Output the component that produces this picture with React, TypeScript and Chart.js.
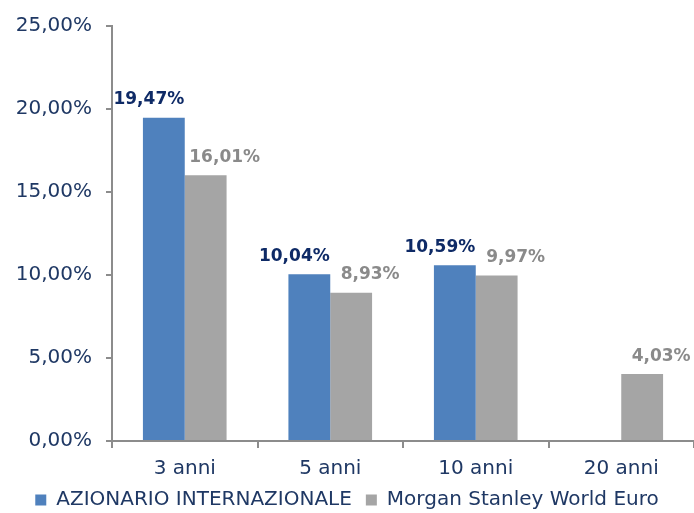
import React, { useEffect, useRef } from "react";
import { Chart, registerables } from "chart.js";

Chart.register(...registerables);

const categories = ["3 anni", "5 anni", "10 anni", "20 anni"];
const fundValues: (number | null)[] = [19.47, 10.04, 10.59, null];
const indexValues: (number | null)[] = [16.01, 8.93, 9.97, 4.03];
const seriesNames = ["AZIONARIO INTERNAZIONALE", "Morgan Stanley World Euro"];

const FONT = "'DejaVu Sans', Verdana, sans-serif";
const NAVY = "#1F3864";

const fmt = (v: number) => v.toFixed(2).replace(".", ",") + "%";

const labelPlugin = {
  id: "barLabels",
  afterDatasetsDraw(chart: any) {
    const ctx = chart.ctx;
    ctx.save();
    ctx.font = `bold 17px ${FONT}`;
    ctx.textAlign = "center";
    ctx.textBaseline = "middle";
    chart.data.datasets.forEach((ds: any, di: number) => {
      const meta = chart.getDatasetMeta(di);
      ctx.fillStyle = ds.labelColor;
      meta.data.forEach((el: any, i: number) => {
        const v = ds.data[i];
        if (v === null || v === undefined) return;
        ctx.fillText(fmt(v), el.x + ds.labelShift, el.y - 18);
      });
    });
    ctx.restore();
  },
};

export default function App() {
  const ref = useRef<HTMLCanvasElement>(null);
  useEffect(() => {
    if (!ref.current) return;
    const chart = new Chart(ref.current, {
      type: "bar",
      data: {
        labels: categories,
        datasets: [
          {
            label: seriesNames[0],
            data: fundValues,
            backgroundColor: "#4F81BD",
            categoryPercentage: 0.575,
            barPercentage: 1,
            labelColor: "#0E2A66",
            labelShift: -15,
          } as any,
          {
            label: seriesNames[1],
            data: indexValues,
            backgroundColor: "#A5A5A5",
            categoryPercentage: 0.575,
            barPercentage: 1,
            labelColor: "#8A8A8A",
            labelShift: 19,
          } as any,
        ],
      },
      options: {
        animation: false,
        responsive: false,
        maintainAspectRatio: false,
        layout: { padding: { top: 24, right: 0, left: 0, bottom: 0 } },
        plugins: {
          legend: {
            position: "bottom",
            maxHeight: 37,
            labels: {
              font: { family: FONT, size: 20 },
              color: NAVY,
              boxWidth: 11,
              boxHeight: 11,
              padding: 14,
            },
          },
          tooltip: { enabled: false },
        },
        scales: {
          x: {
            grid: { offset: true, drawOnChartArea: false, tickLength: 7, color: "#8C8C8C", lineWidth: 2 },
            border: { color: "#8C8C8C", width: 2 },
            ticks: { font: { family: FONT, size: 20 }, color: NAVY, padding: 9 },
            afterFit: (s: any) => {
              s.height = 35;
            },
          },
          y: {
            min: 0,
            max: 25,
            grid: { drawOnChartArea: false, tickLength: 6, color: "#8C8C8C", lineWidth: 2 },
            border: { color: "#8C8C8C", width: 2 },
            ticks: {
              stepSize: 5,
              font: { family: FONT, size: 20 },
              color: NAVY,
              padding: 14,
              callback: (v: any) => fmt(Number(v)),
            },
            afterFit: (s: any) => {
              s.width = 112;
            },
          },
        },
      },
      plugins: [labelPlugin],
    });
    return () => chart.destroy();
  }, []);
  return (
    <div style={{ position: "absolute", left: 0, top: 0, width: 694, height: 513, background: "#fff" }}>
      <canvas ref={ref} width={694} height={513} style={{ display: "block" }} />
    </div>
  );
}
